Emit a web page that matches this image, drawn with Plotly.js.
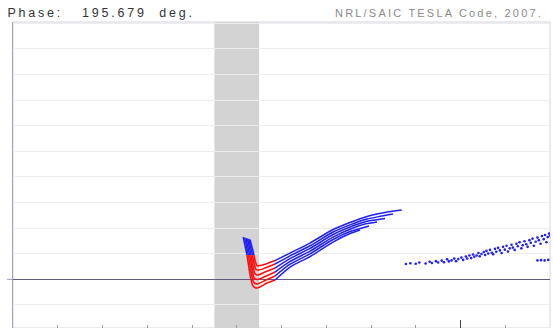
<!DOCTYPE html>
<html>
<head>
<meta charset="utf-8">
<script src="https://cdn.plot.ly/plotly-3.0.1.min.js"></script>
<style>
  html, body { margin: 0; padding: 0; background: #ffffff; overflow: hidden; }
  #chart { width: 553px; height: 328px; }
  .annotation-text { letter-spacing: 2.2px; }
  g.annotation[data-index="0"] .annotation-text { letter-spacing: 2.8px; }
</style>
</head>
<body>
<div id="chart"></div>
<script>
// Header texts
const phaseLabel = "Phase:\u00a0\u00a0\u00a0195.679\u00a0\u00a0deg.";
const codeLabel = "NRL/SAIC TESLA Code, 2007.";

// Interaction gap (shaded band) along the axis
const gapStart = 4.5;
const gapEnd = 5.5;

// Particle rings: position along the tube vs. normalised energy
const line0X = [5.296, 5.385, 5.419, 5.453, 5.520, 5.654, 5.855, 6.190, 6.637, 7.151, 7.531, 7.911, 8.313, 8.686];
const line0Y = [1.555, 0.949, 0.676, 0.539, 0.539, 0.598, 0.734, 1.027, 1.418, 1.945, 2.219, 2.453, 2.609, 2.707];
const line1X = [5.267, 5.352, 5.397, 5.430, 5.497, 5.631, 5.855, 6.190, 6.637, 7.151, 7.531, 7.911, 8.201, 8.492];
const line1Y = [1.574, 0.949, 0.559, 0.383, 0.363, 0.441, 0.598, 0.918, 1.313, 1.848, 2.129, 2.355, 2.461, 2.551];
const line2X = [5.238, 5.318, 5.374, 5.408, 5.475, 5.631, 5.855, 6.190, 6.637, 7.151, 7.531, 7.911, 8.313];
const line2Y = [1.594, 0.949, 0.441, 0.207, 0.168, 0.285, 0.441, 0.809, 1.207, 1.750, 2.043, 2.266, 2.375];
const line3X = [5.207, 5.289, 5.352, 5.385, 5.464, 5.631, 5.855, 6.190, 6.637, 7.151, 7.531, 7.866, 8.134];
const line3Y = [1.613, 0.949, 0.324, 0.051, -0.008, 0.109, 0.285, 0.699, 1.102, 1.652, 1.957, 2.160, 2.238];
const line4X = [5.175, 5.258, 5.330, 5.374, 5.453, 5.654, 5.855, 6.190, 6.637, 7.151, 7.531, 7.955];
const line4Y = [1.633, 0.949, 0.207, -0.105, -0.184, -0.027, 0.129, 0.590, 0.996, 1.555, 1.867, 2.082];
const line5X = [5.144, 5.229, 5.307, 5.363, 5.453, 5.676, 5.855, 6.190, 6.637, 7.151, 7.531, 7.754];
const line5Y = [1.652, 0.949, 0.090, -0.262, -0.340, -0.145, -0.027, 0.480, 0.891, 1.457, 1.789, 1.926];

// Index range of each ring drawn in red (decelerated section)
const redFrom = 1;
const redTo = 6;

// Earlier bunch further downstream (scattered particles)
const dotsX = [8.78, 8.88, 9.00, 9.08, 9.22, 9.31, 9.36, 9.45, 9.50, 9.58, 9.63, 9.70, 9.74, 9.80, 9.86, 9.90,
  9.95, 10.02, 10.06, 10.12, 10.15, 10.20, 10.24, 10.28, 10.31, 10.36, 10.40, 10.43, 10.47, 10.52, 10.55, 10.58,
  10.62, 10.66, 10.70, 10.73, 10.77, 10.80, 10.84, 10.88, 10.92, 10.95, 10.99, 11.03, 11.06, 11.10, 11.14, 11.17,
  11.21, 11.25, 11.28, 11.32, 11.36, 11.39, 11.43, 11.47, 11.50, 11.54, 11.57, 11.61, 11.64, 11.68, 11.72, 11.75,
  11.79, 11.82, 11.86, 11.89, 11.92, 11.95, 11.98, 12.00, 11.72, 11.80, 11.88, 11.96];
const dotsY = [0.60, 0.63, 0.61, 0.66, 0.62, 0.69, 0.64, 0.71, 0.66, 0.73, 0.67, 0.78, 0.70, 0.74, 0.81, 0.71,
  0.79, 0.85, 0.76, 0.89, 0.81, 0.93, 0.83, 0.97, 0.88, 0.93, 1.03, 0.90, 0.99, 1.07, 0.95, 1.11,
  1.01, 1.15, 1.04, 0.98, 1.19, 1.08, 1.23, 1.13, 1.03, 1.27, 1.16, 1.31, 1.09, 1.21, 1.35, 1.24,
  1.15, 1.39, 1.29, 1.45, 1.21, 1.33, 1.49, 1.37, 1.27, 1.53, 1.43, 1.59, 1.31, 1.47, 1.63, 1.53,
  1.39, 1.69, 1.57, 1.73, 1.45, 1.65, 1.79, 1.71, 0.74, 0.75, 0.74, 0.76];

const BLUE = "rgb(30,30,245)";
const RED = "rgb(255,10,10)";

const rings = [[line0X, line0Y], [line1X, line1Y], [line2X, line2Y],
               [line3X, line3Y], [line4X, line4Y], [line5X, line5Y]];

const traces = [];
function segment(xs, ys, a, b, color) {
  traces.push({
    type: "scatter", mode: "lines",
    x: xs.slice(a, b + 1), y: ys.slice(a, b + 1),
    line: { color: color, width: 1.5, shape: "spline", smoothing: 0.6 },
    hoverinfo: "skip", showlegend: false
  });
}
rings.forEach(([xs, ys]) => {
  segment(xs, ys, 0, redFrom, BLUE);
  segment(xs, ys, redFrom, redTo, RED);
  segment(xs, ys, redTo, xs.length - 1, BLUE);
});

traces.push({
  type: "scatter", mode: "markers",
  x: dotsX, y: dotsY,
  marker: { color: BLUE, size: 2.6 },
  hoverinfo: "skip", showlegend: false
});

const layout = {
  width: 553, height: 328,
  margin: { l: 13, r: 3, t: 22, b: 0 },
  paper_bgcolor: "#ffffff", plot_bgcolor: "#ffffff",
  showlegend: false,
  xaxis: {
    range: [0, 12], tick0: 0, dtick: 10,
    ticks: "inside", ticklen: 8, tickwidth: 1, tickcolor: "#444444",
    showticklabels: false, showgrid: false, zeroline: false,
    showline: false,
    minor: { dtick: 1, ticks: "inside", ticklen: 3, tickwidth: 1, tickcolor: "#9a9a9a", showgrid: false }
  },
  yaxis: {
    range: [-1.9, 10.05], tick0: 0, dtick: 1,
    ticks: "", showticklabels: false,
    showgrid: true, gridcolor: "#ececf1", gridwidth: 1,
    zeroline: true, zerolinecolor: "#5e5e7c", zerolinewidth: 1,
    showline: true, linecolor: "#a4a4b4", linewidth: 1
  },
  shapes: [
    { type: "rect", xref: "paper", yref: "paper", x0: 0, x1: 1, y0: 0, y1: 1,
      line: { color: "#d4d4d8", width: 1 }, fillcolor: "rgba(0,0,0,0)", layer: "below" },
    { type: "rect", xref: "x", yref: "paper", x0: gapStart, x1: gapEnd, y0: 0, y1: 1,
      line: { width: 0 }, fillcolor: "#d3d3d3", layer: "between" },
    { type: "line", xref: "paper", yref: "y", x0: -0.011, x1: 0, y0: 0, y1: 0,
      line: { color: "#9a9aaa", width: 1 } }
  ],
  annotations: [
    { text: phaseLabel, xref: "paper", yref: "paper", x: 0, y: 1,
      xanchor: "left", yanchor: "bottom", showarrow: false, xshift: -1, yshift: 0,
      font: { family: "Liberation Sans, Arial, sans-serif", size: 12.5, color: "#333333" } },
    { text: codeLabel, xref: "paper", yref: "paper", x: 0.5978, y: 1,
      xanchor: "left", yanchor: "bottom", showarrow: false, xshift: -1, yshift: 1,
      font: { family: "Liberation Sans, Arial, sans-serif", size: 11, color: "#8a8a8a" } }
  ]
};

Plotly.newPlot("chart", traces, layout, { displayModeBar: false, staticPlot: true });
</script>
</body>
</html>
